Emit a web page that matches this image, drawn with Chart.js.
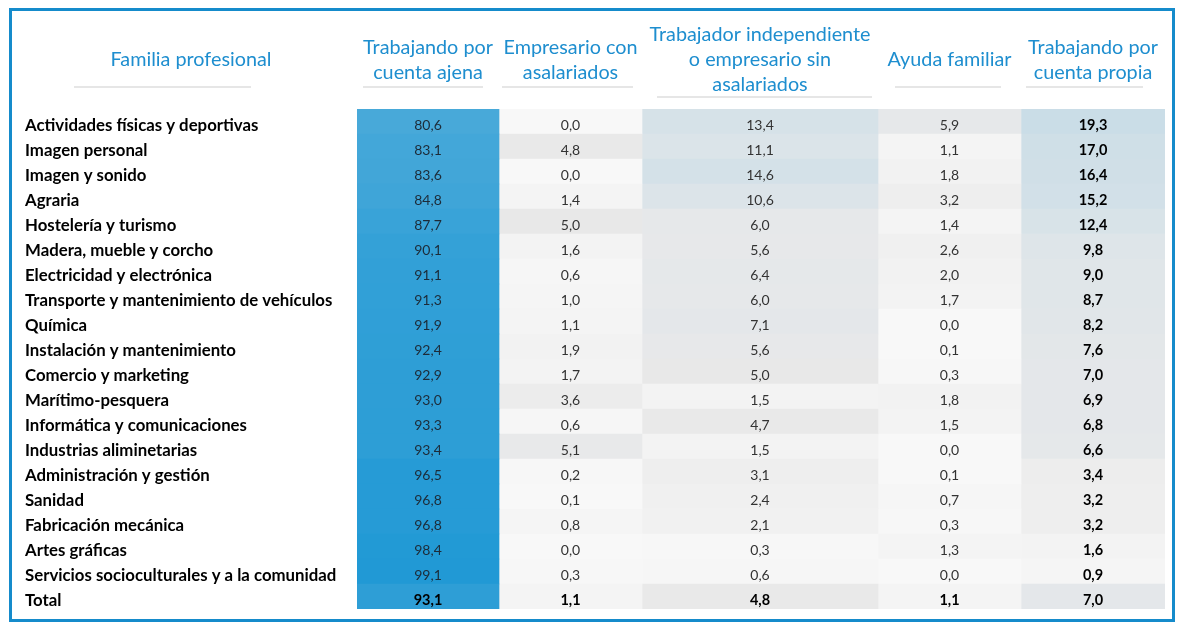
<!DOCTYPE html>
<html>
<head>
<meta charset="utf-8">
<script src="https://cdn.jsdelivr.net/npm/chart.js@4.4.1/dist/chart.umd.min.js"></script>
<style>
  html, body { margin: 0; padding: 0; background: #fff; }
  #wrap { width: 1180px; height: 628px; }
</style>
</head>
<body>
<div id="wrap"><canvas id="chart" width="1180" height="628"></canvas></div>
<script>
// Rows of the table
var familias = [
    'Actividades físicas y deportivas', 'Imagen personal', 'Imagen y sonido', 'Agraria',
    'Hostelería y turismo', 'Madera, mueble y corcho', 'Electricidad y electrónica',
    'Transporte y mantenimiento de vehículos', 'Química', 'Instalación y mantenimiento',
    'Comercio y marketing', 'Marítimo-pesquera', 'Informática y comunicaciones',
    'Industrias aliminetarias', 'Administración y gestión', 'Sanidad', 'Fabricación mecánica',
    'Artes gráficas', 'Servicios socioculturales y a la comunidad', 'Total'
];

// Column headers (one entry per line)
var familiaHeader = 'Familia profesional';
var columnHeaders = [
    ['Trabajando por', 'cuenta ajena'],
    ['Empresario con', 'asalariados'],
    ['Trabajador independiente', 'o empresario sin', 'asalariados'],
    ['Ayuda familiar'],
    ['Trabajando por', 'cuenta propia']
];

// Values (%)
var cuentaAjena = [80.6, 83.1, 83.6, 84.8, 87.7, 90.1, 91.1, 91.3, 91.9, 92.4, 92.9, 93.0, 93.3, 93.4, 96.5, 96.8, 96.8, 98.4, 99.1, 93.1];
var empresarioConAsalariados = [0.0, 4.8, 0.0, 1.4, 5.0, 1.6, 0.6, 1.0, 1.1, 1.9, 1.7, 3.6, 0.6, 5.1, 0.2, 0.1, 0.8, 0.0, 0.3, 1.1];
var independienteSinAsalariados = [13.4, 11.1, 14.6, 10.6, 6.0, 5.6, 6.4, 6.0, 7.1, 5.6, 5.0, 1.5, 4.7, 1.5, 3.1, 2.4, 2.1, 0.3, 0.6, 4.8];
var ayudaFamiliar = [5.9, 1.1, 1.8, 3.2, 1.4, 2.6, 2.0, 1.7, 0.0, 0.1, 0.3, 1.8, 1.5, 0.0, 0.1, 0.7, 0.3, 1.3, 0.0, 1.1];
var cuentaPropia = [19.3, 17.0, 16.4, 15.2, 12.4, 9.8, 9.0, 8.7, 8.2, 7.6, 7.0, 6.9, 6.8, 6.6, 3.4, 3.2, 3.2, 1.6, 0.9, 7.0];

var columns = [cuentaAjena, empresarioConAsalariados, independienteSinAsalariados, ayudaFamiliar, cuentaPropia];

// layout only: column widths in px and header underline insets [left, right]
var colWidths = [142, 143, 236, 143, 144];
var underlineInsets = [[6, 16], [3, 9], [15, 6], [17, 20], [5, 22]];
var FONT = 'Lato, "Open Sans", sans-serif';

function hexToRgb(h) {
    return [parseInt(h.substr(1, 2), 16), parseInt(h.substr(3, 2), 16), parseInt(h.substr(5, 2), 16)];
}
function mix(a, b, t) {
    var ca = hexToRgb(a), cb = hexToRgb(b);
    var r = ca.map(function(c, i) { return Math.round(c + (cb[i] - c) * t); });
    return 'rgb(' + r.join(',') + ')';
}
// 3-colour scale like the spreadsheet: near-white -> grey -> blue
function cellColor(v) {
    if (v <= 5) return mix('#F8F8F8', '#E8E8E8', v / 5);
    return mix('#E8E9EA', '#2199D5', Math.min(1, (v - 5) / (99.1 - 5)));
}

var datasets = columns.map(function(col, i) {
    return {
        label: columnHeaders[i].join(' '),
        data: col.map(function() { return colWidths[i]; }),
        values: col,
        backgroundColor: col.map(cellColor),
        borderWidth: 0,
        barPercentage: 1,
        categoryPercentage: 1
    };
});

var tablePlugin = {
    id: 'tablePlugin',
    beforeDraw: function(chart) {
        var ctx = chart.ctx;
        ctx.save();
        ctx.fillStyle = '#fff';
        ctx.fillRect(0, 0, chart.width, chart.height);
        ctx.restore();
    },
    afterDatasetsDraw: function(chart) {
        var ctx = chart.ctx;
        ctx.save();
        ctx.textAlign = 'center';
        ctx.textBaseline = 'middle';
        chart.data.datasets.forEach(function(ds, i) {
            var meta = chart.getDatasetMeta(i);
            meta.data.forEach(function(bar, j) {
                var isTotal = j === familias.length - 1;
                var bold = isTotal || i === 4;
                ctx.font = (bold ? 'bold 14.5px ' : '14px ') + FONT;
                ctx.fillStyle = bold ? '#000' : (i === 0 ? '#1d2b38' : '#333');
                var txt = ds.values[j].toFixed(1).replace('.', ',');
                ctx.fillText(txt, (bar.x + bar.base) / 2, bar.y + 4);
            });
        });
        ctx.restore();
    },
    afterDraw: function(chart) {
        var ctx = chart.ctx;
        var area = chart.chartArea;
        var yScale = chart.scales.y;
        ctx.save();
        ctx.font = '19.8px ' + FONT;
        ctx.textAlign = 'center';
        ctx.textBaseline = 'middle';
        ctx.fillStyle = '#1E8ECF';
        ctx.strokeStyle = '#E6E6E6';
        ctx.lineWidth = 2;

        // "Familia profesional" over the label column
        var fx = (yScale.left + area.left) / 2;
        ctx.fillText(familiaHeader, fx, 60);
        ctx.beginPath();
        ctx.moveTo(yScale.left + 49, 87);
        ctx.lineTo(area.left - 106, 87);
        ctx.stroke();

        columnHeaders.forEach(function(lines, i) {
            var bar = chart.getDatasetMeta(i).data[0];
            var left = bar.base, right = bar.x;
            var cx = (left + right) / 2;
            var y0 = 60 - (lines.length - 1) * 12.5;
            lines.forEach(function(line, k) {
                ctx.fillText(line, cx, y0 + k * 25);
            });
            var lastY = y0 + (lines.length - 1) * 25;
            var uy = Math.max(87, lastY + 12);
            ctx.beginPath();
            ctx.moveTo(left + underlineInsets[i][0], uy);
            ctx.lineTo(right - underlineInsets[i][1], uy);
            ctx.stroke();
        });

        // outer frame
        ctx.strokeStyle = '#158BCB';
        ctx.lineWidth = 3;
        ctx.strokeRect(10.5, 9.5, 1163, 611);
        ctx.restore();
    }
};

var chart = new Chart(document.getElementById('chart').getContext('2d'), {
    type: 'bar',
    data: {
        labels: familias,
        datasets: datasets
    },
    options: {
        indexAxis: 'y',
        responsive: false,
        animation: false,
        layout: { padding: { left: 25, top: 109, right: 15, bottom: 19 } },
        plugins: {
            legend: { display: false },
            tooltip: { enabled: false }
        },
        scales: {
            x: {
                stacked: true,
                min: 0,
                max: colWidths.reduce(function(a, b) { return a + b; }, 0),
                display: false
            },
            y: {
                stacked: true,
                grid: { display: false },
                border: { display: false },
                ticks: {
                    crossAlign: 'far',
                    padding: 0,
                    labelOffset: 4,
                    color: '#000',
                    font: { family: FONT, size: 16.8, weight: 'bold' }
                },
                afterFit: function(scale) { scale.width = 332; }
            }
        }
    },
    plugins: [tablePlugin]
});
</script>
</body>
</html>
